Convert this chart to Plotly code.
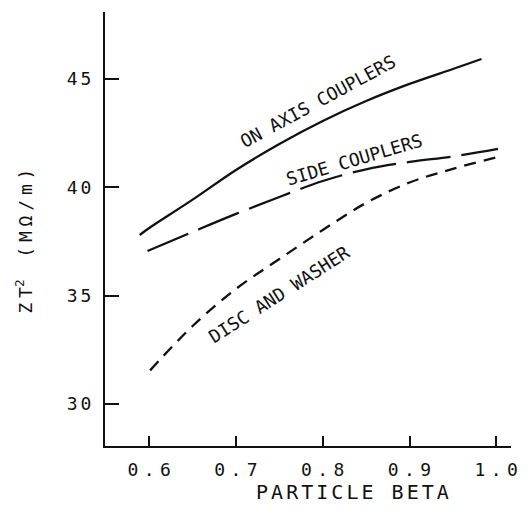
import plotly.graph_objects as go

# Data
on_axis_beta = [0.589, 0.60, 0.65, 0.70, 0.75, 0.80, 0.85, 0.90, 0.95, 0.983]
on_axis_zt2 = [37.80, 38.12, 39.43, 40.80, 42.00, 43.06, 43.98, 44.77, 45.46, 45.92]

side_beta = [0.598, 0.65, 0.70, 0.75, 0.80, 0.85, 0.90, 0.95, 1.002]
side_zt2 = [37.06, 37.94, 38.77, 39.55, 40.29, 40.83, 41.17, 41.42, 41.77]

disc_beta = [0.601, 0.65, 0.70, 0.75, 0.80, 0.85, 0.90, 0.95, 1.002]
disc_zt2 = [31.55, 33.60, 35.31, 36.69, 38.03, 39.28, 40.22, 40.85, 41.40]

x_tick_vals = [0.6, 0.7, 0.8, 0.9, 1.0]
x_tick_labels = ["0.6", "0.7", "0.8", "0.9", "1.0"]
y_tick_vals = [30, 35, 40, 45]
y_tick_labels = ["30", "35", "40", "45"]

FONT = "DejaVu Sans Mono"
INK = "#111111"


def spaced(s, gap_px):
    """Insert a narrow non-breaking gap between characters (letter-spacing look)."""
    sp = "<span style='font-size:%dpx'>\u00a0</span>" % gap_px
    return sp.join("\u00a0" if c == " " else c for c in s)


fig = go.Figure()
fig.add_trace(go.Scatter(x=on_axis_beta, y=on_axis_zt2, mode="lines",
                         line=dict(color=INK, width=2.3, shape="spline"),
                         showlegend=False, hoverinfo="skip"))
fig.add_trace(go.Scatter(x=side_beta, y=side_zt2, mode="lines",
                         line=dict(color=INK, width=2.3, dash="44px,11px", shape="spline"),
                         showlegend=False, hoverinfo="skip"))
fig.add_trace(go.Scatter(x=disc_beta, y=disc_zt2, mode="lines",
                         line=dict(color=INK, width=2.3, dash="12px,8px", shape="spline"),
                         showlegend=False, hoverinfo="skip"))

ann_font = dict(family=FONT, size=18, color=INK)
fig.add_annotation(x=0.7938, y=43.98, xref="x", yref="y", text="ON AXIS COUPLERS",
                   textangle=-28.5, showarrow=False, font=ann_font)
fig.add_annotation(x=0.8368, y=41.26, xref="x", yref="y", text="SIDE COUPLERS",
                   textangle=-16.5, showarrow=False, font=ann_font)
fig.add_annotation(x=0.7496, y=35.03, xref="x", yref="y", text="DISC AND WASHER",
                   textangle=-32.7, showarrow=False, font=ann_font)

fig.add_annotation(x=0.8346, y=-0.106, xref="x", yref="paper",
                   text=spaced("PARTICLE BETA", 5),
                   showarrow=False, font=dict(family=FONT, size=20, color=INK),
                   xanchor="center", yanchor="middle")
gap = "<span style='font-size:8px'>\u00a0</span>"
ytitle = ("Z" + gap + "T<sup>2</sup>" + "\u00a0\u00a0" + "(" + gap + "M" + gap + "Ω"
          + gap + "/" + gap + "m" + gap + ")")
fig.add_annotation(x=-0.1985, y=0.472, xref="paper", yref="paper",
                   text=ytitle, textangle=-90,
                   showarrow=False, font=dict(family=FONT, size=18, color=INK),
                   xanchor="center", yanchor="middle")

fig.update_layout(
    width=530, height=514,
    margin=dict(l=105, r=12, t=12, b=68),
    paper_bgcolor="white", plot_bgcolor="white",
    hovermode=False,
    xaxis=dict(range=[0.549, 1.017], tickvals=x_tick_vals,
               ticktext=[spaced(t, 9) for t in x_tick_labels],
               ticks="inside", ticklen=10, tickwidth=2, tickcolor=INK,
               showline=True, linecolor=INK, linewidth=2, showgrid=False,
               zeroline=False, ticklabelstandoff=6,
               tickfont=dict(family=FONT, size=18, color=INK)),
    yaxis=dict(range=[28.06, 48.09], tickvals=y_tick_vals,
               ticktext=[spaced(t, 5) for t in y_tick_labels],
               ticks="inside", ticklen=14, tickwidth=2, tickcolor=INK,
               showline=True, linecolor=INK, linewidth=2, showgrid=False,
               zeroline=False, ticklabelstandoff=8,
               tickfont=dict(family=FONT, size=18, color=INK)),
)

fig.write_html("out.html", config={"displayModeBar": False},
               post_script="document.body.style.margin='0px';")
